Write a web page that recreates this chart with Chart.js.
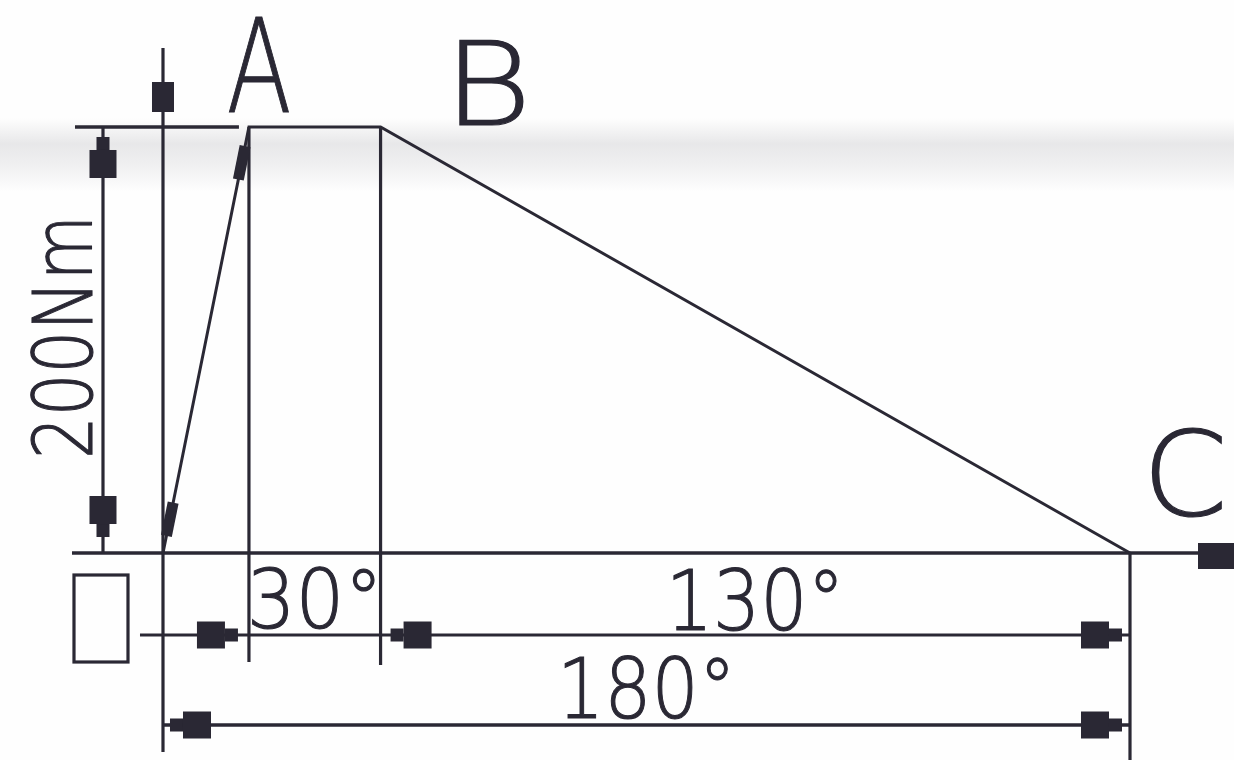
<!DOCTYPE html>
<html>
<head>
<meta charset="utf-8">
<script src="https://cdn.jsdelivr.net/npm/chart.js@4.4.1/dist/chart.umd.min.js"></script>
<style>
  html, body { margin: 0; padding: 0; background: #fff; }
  .graphBox { position: relative; width: 1234px; height: 760px; }
</style>
</head>
<body>
<div class="graphBox"><canvas id="torque"></canvas></div>
<script>
// torque vs crank angle sketch (angles as drawn, the sketch is not to scale)
const angles = [0, 16, 40.5, 180];      // O, A, B, C
const torque = [0, 200, 200, 0];        // Nm
const pointNames = ['', 'A', 'B', 'C'];
const spanLabels = ['30°', '130°', '180°'];
const torqueLabel = '200Nm';

const ink = '#2a2834';
const FONT = '"DejaVu Sans", "Liberation Sans", sans-serif';

// pixel helpers
function arrow(ctx, x, y, dx, dy, o) {
  ctx.save();
  ctx.translate(x, y);
  ctx.rotate(Math.atan2(dy, dx));
  ctx.fillStyle = ink;
  if (o.n) ctx.fillRect(-o.n, -o.nw / 2, o.n, o.nw);
  ctx.fillRect(-o.n - o.b, -o.bw / 2, o.b, o.bw);
  ctx.restore();
}

function line(ctx, x1, y1, x2, y2, w) {
  ctx.beginPath();
  ctx.moveTo(x1, y1);
  ctx.lineTo(x2, y2);
  ctx.lineWidth = w || 3.2;
  ctx.strokeStyle = ink;
  ctx.stroke();
}

function label(ctx, text, cx, base, cap, width, rot) {
  ctx.save();
  ctx.font = '200 100px ' + FONT;
  let m = ctx.measureText(text);
  const size = 100 * cap / m.actualBoundingBoxAscent;
  ctx.font = '200 ' + size + 'px ' + FONT;
  m = ctx.measureText(text);
  const w = m.actualBoundingBoxLeft + m.actualBoundingBoxRight;
  ctx.translate(cx, base);
  if (rot) ctx.rotate(rot);
  ctx.scale(width / w, 1);
  ctx.textAlign = 'center';
  ctx.textBaseline = 'alphabetic';
  ctx.fillStyle = ink;
  ctx.strokeStyle = ink;
  ctx.lineWidth = 1.1;
  ctx.fillText(text, 0, 0);
  ctx.strokeText(text, 0, 0);
  ctx.restore();
}

const paper = {
  id: 'paper',
  beforeDraw(chart) {
    const ctx = chart.ctx;
    ctx.save();
    ctx.fillStyle = '#fefefe';
    ctx.fillRect(0, 0, chart.width, chart.height);
    // scan smudge band
    const g = ctx.createLinearGradient(0, 118, 0, 192);
    g.addColorStop(0, 'rgba(222,222,224,0)');
    g.addColorStop(0.35, 'rgba(222,222,224,0.7)');
    g.addColorStop(0.65, 'rgba(226,226,228,0.5)');
    g.addColorStop(1, 'rgba(226,226,228,0)');
    ctx.fillStyle = g;
    ctx.fillRect(0, 118, chart.width, 74);
    ctx.restore();
  }
};

const sketch = {
  id: 'sketch',
  afterDatasetsDraw(chart) {
    const ctx = chart.ctx;
    const X = v => chart.scales.x.getPixelForValue(v);
    const Y = v => chart.scales.y.getPixelForValue(v);
    const ox = X(angles[0]), oy = Y(0);
    const ax = X(angles[1]), bx = X(angles[2]), cx = X(angles[3]);
    const ty = Y(torque[1]);
    const dim1 = oy + 82, dim2 = oy + 172, dimT = ox - 60;
    ctx.save();

    // axes
    line(ctx, ox, 752, ox, 48);
    line(ctx, ox - 91, oy, chart.width, oy, 3.6);
    arrow(ctx, ox, 82, 0, -1, { n: 0, b: 30, bw: 22 });
    arrow(ctx, chart.width, oy + 3, 1, 0, { n: 0, b: 36, bw: 26 });

    // extension lines
    line(ctx, ox - 88, ty, ax - 10, ty, 3.6);
    line(ctx, ax, ty, ax, oy + 109);
    line(ctx, bx, ty, bx, oy + 112);
    line(ctx, cx, oy, cx, chart.height);

    // 200Nm dimension
    line(ctx, dimT, ty, dimT, oy);
    const std = { n: 13, nw: 13, b: 28, bw: 27 };
    arrow(ctx, dimT, ty + 10, 0, -1, std);
    arrow(ctx, dimT, oy - 16, 0, 1, std);
    label(ctx, torqueLabel, dimT - 11, 337, 62, 233, -Math.PI / 2);

    // angle dimensions
    line(ctx, ox - 23, dim1, cx, dim1);
    arrow(ctx, ax - 11, dim1, 1, 0, std);
    arrow(ctx, bx + 10, dim1, -1, 0, std);
    arrow(ctx, cx - 8, dim1, 1, 0, std);
    line(ctx, ox, dim2, cx, dim2, 3.6);
    arrow(ctx, ox + 7, dim2, -1, 0, std);
    arrow(ctx, cx - 8, dim2, 1, 0, std);
    label(ctx, spanLabels[0], (ax + bx) / 2, dim1 - 7, 62, 122);
    label(ctx, spanLabels[1], (bx + cx) / 2, dim1 - 5, 63, 163);
    label(ctx, spanLabels[2], (ox + cx) / 2, dim2 - 7, 63, 163);

    // ramp arrows
    const rdx = ax - ox, rdy = ty - oy, rl = Math.hypot(rdx, rdy);
    const ux = rdx / rl, uy = rdy / rl;
    arrow(ctx, ox + rdx * 0.955, oy + rdy * 0.955, ux, uy, { n: 0, b: 34, bw: 11 });
    arrow(ctx, ox + rdx * 0.04, oy + rdy * 0.04, -ux, -uy, { n: 0, b: 34, bw: 11 });

    // origin box
    ctx.lineWidth = 3.2;
    ctx.strokeStyle = ink;
    ctx.strokeRect(ox - 89, oy + 22, 54, 87);

    // point names
    label(ctx, pointNames[1], ax + 10, ty - 15, 95, 60);
    label(ctx, pointNames[2], bx + 107, ty - 2, 85, 64);
    label(ctx, pointNames[3], cx + 55, oy - 38, 88, 70);
    ctx.restore();
  }
};

new Chart(document.getElementById('torque'), {
  type: 'scatter',
  data: {
    datasets: [{
      label: 'Torque',
      data: angles.map((a, i) => ({ x: a, y: torque[i] })),
      showLine: true,
      borderColor: ink,
      borderWidth: 3,
      pointRadius: 0,
      fill: false,
      clip: false
    }]
  },
  options: {
    responsive: true,
    maintainAspectRatio: false,
    animation: false,
    layout: { padding: 0 },
    scales: {
      x: { type: 'linear', display: false, min: -30.34, max: 199.36 },
      y: { type: 'linear', display: false, min: -97.18, max: 259.62 }
    },
    plugins: {
      legend: { display: false },
      tooltip: { enabled: false }
    }
  },
  plugins: [paper, sketch]
});
</script>
</body>
</html>
